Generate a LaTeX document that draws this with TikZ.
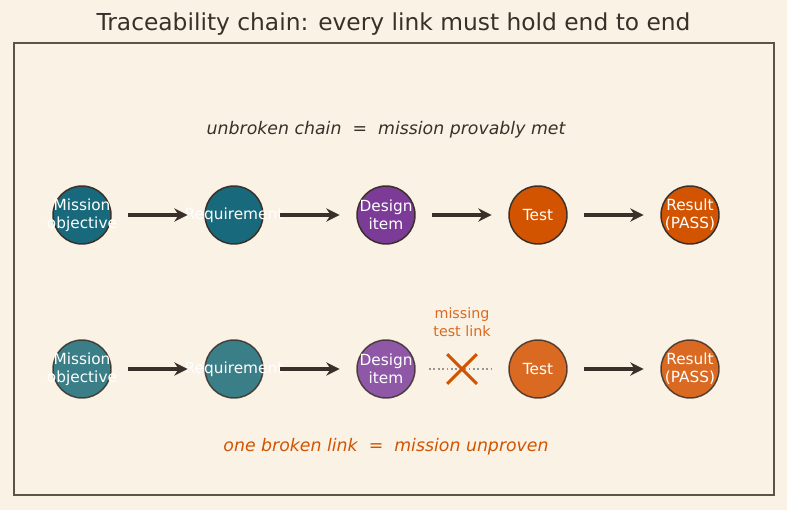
\documentclass[tikz,border=0pt]{standalone}
\usepackage{fontspec}
\setmainfont{DejaVu Sans}
\usetikzlibrary{arrows.meta,shapes.misc}

\definecolor{cream}{HTML}{FAF2E4}
\definecolor{framegrey}{HTML}{5E5446}
\definecolor{ink}{HTML}{3A2F29}
\definecolor{tealA}{HTML}{17697B}
\definecolor{purpleA}{HTML}{7B3B97}
\definecolor{orangeA}{HTML}{D35400}
\definecolor{tealB}{HTML}{3A7E87}
\definecolor{purpleB}{HTML}{8E58A7}
\definecolor{orangeB}{HTML}{DA6A22}
\definecolor{dotgrey}{HTML}{9A9490}

\tikzset{
	stage/.style={circle, draw=ink, line width=1.1pt, minimum size=43.5pt, inner sep=0pt},
	stagetext/.style={text=white, align=center, inner sep=0pt,
		font=\fontsize{11.5}{13.6}\selectfont},
	link/.style={-{Stealth[length=10pt,width=10pt]}, ink, line width=2.4pt,
		shorten <=12pt, shorten >=12.5pt},
	note/.style={font=\fontsize{13}{15}\selectfont\itshape}
}

\begin{document}
\begin{tikzpicture}[x=0.75pt,y=0.75pt,yscale=-1]
	\useasboundingbox (0,0) rectangle (787,510);
	\fill[cream] (0,0) rectangle (787,510);
	\def\dx{152}
	\def\ya{215}
	\def\yb{369}
	% title
	\node[ink, font=\fontsize{17.5}{20}\selectfont] (title) at (393.5,24) {Traceability chain: every link must hold end to end};
	% frame
	\draw[framegrey, line width=1.1pt] (14,43) rectangle (774,495);

	%row 1: unbroken chain
	\node[note, ink] (top) at (386,130) {unbroken chain \ = \ mission provably met};
	\node[stage, fill=tealA, label={[stagetext]center:Mission\\objective}] (m1) at (82,\ya) {};
	\node[stage, fill=tealA, label={[stagetext]center:Requirement}] (r1) at (82+\dx,\ya) {};
	\node[stage, fill=purpleA, label={[stagetext]center:Design\\item}] (d1) at (82+2*\dx,\ya) {};
	\node[stage, fill=orangeA, label={[stagetext]center:Test}] (t1) at (82+3*\dx,\ya) {};
	\node[stage, fill=orangeA, label={[stagetext]center:Result\\(PASS)}] (p1) at (82+4*\dx,\ya) {};
	\draw[link] (m1) -- (r1);
	\draw[link] (r1) -- (d1);
	\draw[link] (d1) -- (t1);
	\draw[link] (t1) -- (p1);

	%row 2: one link missing
	\node[stage, fill=tealB, draw opacity=0.85, label={[stagetext]center:Mission\\objective}] (m2) at (82,\yb) {};
	\node[stage, fill=tealB, draw opacity=0.85, label={[stagetext]center:Requirement}] (r2) at (82+\dx,\yb) {};
	\node[stage, fill=purpleB, draw opacity=0.85, label={[stagetext]center:Design\\item}] (d2) at (82+2*\dx,\yb) {};
	\node[stage, fill=orangeB, draw opacity=0.85, label={[stagetext]center:Test}] (t2) at (82+3*\dx,\yb) {};
	\node[stage, fill=orangeB, draw opacity=0.85, label={[stagetext]center:Result\\(PASS)}] (p2) at (82+4*\dx,\yb) {};
	\draw[link] (m2) -- (r2);
	\draw[link] (r2) -- (d2);
	\draw[dotgrey, line width=1.3pt, dotted, shorten <=10pt, shorten >=12pt] (d2) -- (t2);
	\draw[link] (t2) -- (p2);
	% the broken link
	\node[cross out, draw=orangeA, line width=2.3pt, minimum size=20pt, inner sep=0pt] (gap) at (462,\yb) {};
	\node[orangeB, align=center, font=\fontsize{10.7}{13.5}\selectfont] (miss) at (462,322) {missing\\test link};
	\node[note, orangeA] (bottom) at (386,447) {one broken link \ = \ mission unproven};
\end{tikzpicture}
\end{document}
